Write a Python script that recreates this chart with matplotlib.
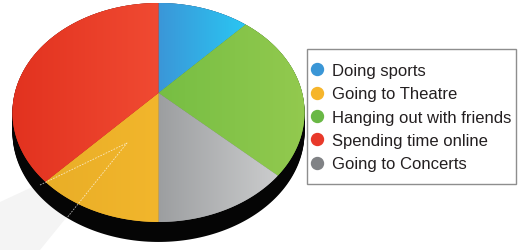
import numpy as np
import matplotlib
matplotlib.use("Agg")
import matplotlib.pyplot as plt
from matplotlib.transforms import Transform, Affine2D
from matplotlib.path import Path
from matplotlib.patches import Circle, Polygon, Rectangle
from matplotlib.lines import Line2D
from matplotlib.colors import LinearSegmentedColormap

# pie slices, clockwise from 12 o'clock
slice_labels = ["Doing sports", "Hanging out with friends", "Going to Concerts",
                "Going to Theatre", "Spending time online"]
slice_shares = [12, 25, 13, 12, 38]
slice_left = ["#3b96d8", "#76be43", "#9c9ea0", "#e9ae27", "#e2321f"]
slice_right = ["#2ac6f2", "#94ca4f", "#cbcccd", "#f2b62c", "#f04a32"]

legend_labels = ["Doing sports", "Going to Theatre", "Hanging out with friends",
                 "Spending time online", "Going to Concerts"]
legend_colors = ["#3a96d6", "#f6b52b", "#69b845", "#e8392a", "#808285"]


class Tilt(Transform):
    # unit pie -> tilted disc, in pixel coords
    input_dims = 2
    output_dims = 2
    is_separable = False
    has_inverse = False

    def __init__(self, cx, cy, sx, sy, k):
        super().__init__()
        self.cx, self.cy, self.sx, self.sy, self.k = cx, cy, sx, sy, k

    def transform_non_affine(self, values):
        v = np.asarray(values, dtype=float).reshape(-1, 2)
        w = 1 + self.k * v[:, 1]
        return np.column_stack([self.cx + self.sx * v[:, 0] / w,
                                self.cy - self.sy * v[:, 1] / w])

    def transform_path_non_affine(self, path):
        pts = [seg(np.linspace(0, 1, 40)) for seg, code in path.iter_bezier()]
        pts = np.concatenate(pts)
        return Path(self.transform_non_affine(pts), closed=True)


fig = plt.figure(figsize=(5.2, 2.51), dpi=100)
ax = fig.add_axes([0, 0, 1, 1])
tilt = Tilt(158.5, 94, 143.7, 106, 0.178)

# faint light beam behind the pie
ax.add_patch(Polygon([(127, 144), (0, 203), (0, 251), (40, 251)], closed=True,
                     facecolor="#f4f4f4", edgecolor="none", zorder=0))

# black side of the disc
for d in np.arange(0, 21, 1.0):
    ax.add_patch(Circle((0, 0), 1, facecolor="#050505", edgecolor="none", zorder=0.5,
                        transform=tilt + Affine2D().translate(0, d) + ax.transData))

wedges, _ = ax.pie(slice_shares, startangle=90, counterclock=False,
                   colors=slice_left, wedgeprops=dict(linewidth=0))

for wedge, c0, c1 in zip(wedges, slice_left, slice_right):
    wedge.set_transform(tilt + ax.transData)
    xy = tilt.transform_non_affine(wedge.get_path().vertices)
    x0, x1 = xy[:, 0].min(), xy[:, 0].max()
    y0, y1 = xy[:, 1].min(), xy[:, 1].max()
    cmap = LinearSegmentedColormap.from_list("g", [c0, c1])
    im = ax.imshow(np.linspace(0, 1, 256)[None, :], cmap=cmap, extent=(x0, x1, y1, y0),
                   aspect="auto", interpolation="bilinear", zorder=3)
    im.set_clip_path(wedge)

# thin dashed lines of the beam edges
ax.plot([40, 127, 66], [186, 144, 220], color="white", lw=0.6, ls=(0, (2, 1.5)),
        alpha=0.7, zorder=4)

# legend
ax.add_patch(Rectangle((307, 50), 209, 135, facecolor="white", edgecolor="#8e8e8e",
                       linewidth=1, zorder=4.5))
handles = [Line2D([], [], marker="o", linestyle="none", markersize=8.6,
                  markerfacecolor=c, markeredgecolor=c) for c in legend_colors]
leg = ax.legend(handles, legend_labels, loc="upper left", bbox_to_anchor=(310.3, 64),
                bbox_transform=ax.transData, frameon=False, borderpad=0, borderaxespad=0,
                handlelength=0.8, handletextpad=0.5, labelspacing=0.5,
                prop=dict(family="Liberation Sans", size=12))
for t in leg.get_texts():
    t.set_color("#231f20")

ax.set_aspect("auto")
ax.set_xlim(0, 520)
ax.set_ylim(251, 0)
ax.axis("off")

fig.savefig("out.png", dpi=100)
